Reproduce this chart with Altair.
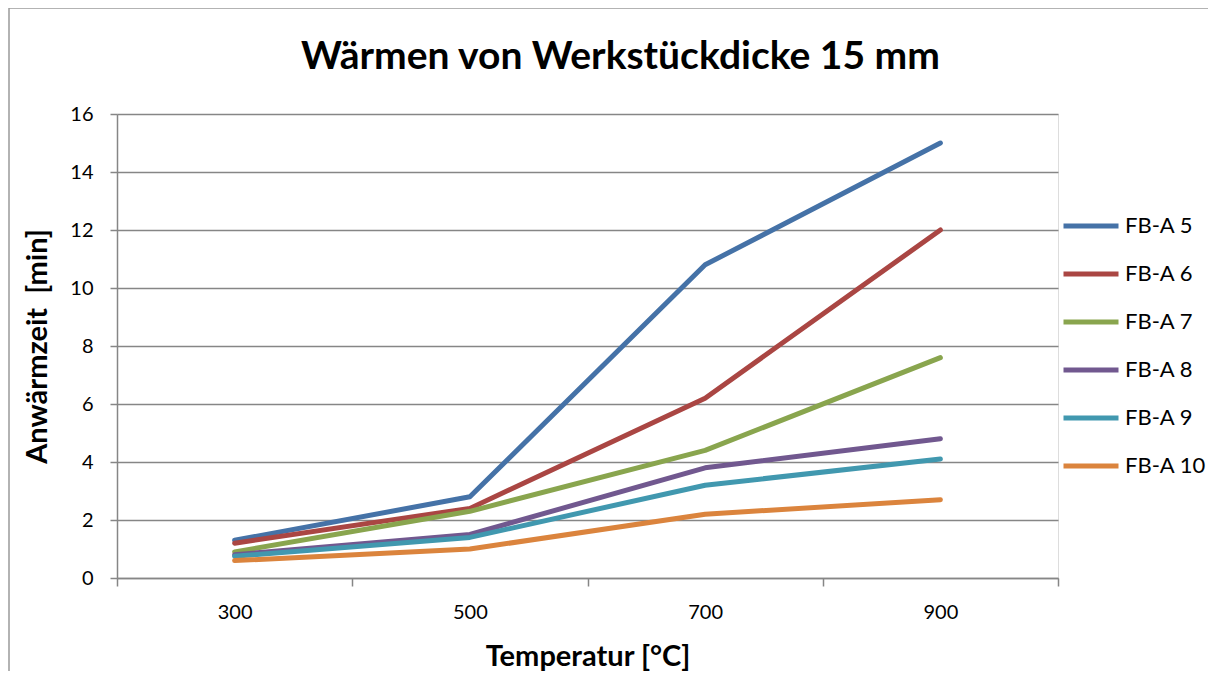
import altair as alt
import pandas as pd

temps = ["300", "500", "700", "900"]
series = ["FB-A 5", "FB-A 6", "FB-A 7", "FB-A 8", "FB-A 9", "FB-A 10"]
fba5 = [1.3, 2.8, 10.8, 15.0]
fba6 = [1.2, 2.4, 6.2, 12.0]
fba7 = [0.9, 2.3, 4.4, 7.6]
fba8 = [0.8, 1.5, 3.8, 4.8]
fba9 = [0.75, 1.4, 3.2, 4.1]
fba10 = [0.6, 1.0, 2.2, 2.7]
colors = ["#4572A7", "#AA4643", "#89A54E", "#71588F", "#4198AF", "#DB843D"]

rows = []
for name, vals in zip(series, [fba5, fba6, fba7, fba8, fba9, fba10]):
    for t, v in zip(temps, vals):
        rows.append({"Temperatur": t, "Zeit": v, "Serie": name})
df = pd.DataFrame(rows)

FONT = "Lato"

lines = alt.Chart(df).mark_line(strokeWidth=5, strokeCap="round", strokeJoin="round").encode(
    x=alt.X("Temperatur:N", sort=temps,
            scale=alt.Scale(type="band", paddingInner=0, paddingOuter=0),
            axis=alt.Axis(title="Temperatur [°C]", labelAngle=0, tickBand="extent",
                          tickSize=8, labelPadding=16, titlePadding=20,
                          domainColor="#868686", tickColor="#868686", domainWidth=1.5, tickWidth=1.5,
                          labelFont=FONT, labelFontSize=20, labelColor="#000",
                          titleFont=FONT, titleFontSize=29, titleFontWeight="bold", titleColor="#000",
                          grid=False)),
    y=alt.Y("Zeit:Q", scale=alt.Scale(domain=[0, 16]),
            axis=alt.Axis(title="Anwärmzeit \u00a0[min]", values=list(range(0, 17, 2)), tickSize=7,
                          labelPadding=17, titlePadding=17,
                          domainColor="#868686", tickColor="#868686", domainWidth=1.5, tickWidth=1.5,
                          gridColor="#868686", gridWidth=1.5,
                          labelFont=FONT, labelFontSize=20, labelColor="#000",
                          titleFont=FONT, titleFontSize=29, titleFontWeight="bold", titleColor="#000")),
    color=alt.Color("Serie:N", sort=series, scale=alt.Scale(domain=series, range=colors),
                    legend=alt.Legend(title=None, orient="none", legendX=944, legendY=82,
                                      symbolType="stroke", symbolSize=3025, symbolStrokeWidth=5,
                                      labelFont=FONT, labelFontSize=22, labelColor="#000",
                                      rowPadding=7, labelOffset=4)),
    order=alt.value(0),
)

border = alt.Chart(pd.DataFrame({"a": [0]})).mark_rule(color="#9a9a9a", strokeWidth=1.5).encode(
    x=alt.value(-108), y=alt.value(-106), y2=alt.value(600)
)
border_top = alt.Chart(pd.DataFrame({"a": [0]})).mark_rule(color="#9a9a9a", strokeWidth=1.5).encode(
    x=alt.value(-108), x2=alt.value(1100), y=alt.value(-106)
)

chart = alt.layer(border, border_top, lines).properties(
    width=941, height=464,
    title=alt.TitleParams("Wärmen von Werkstückdicke 15 mm", font=FONT, fontSize=39, fontWeight="bold",
                          color="#000", anchor="middle", frame="group", dx=33, offset=-70),
    autosize=alt.AutoSizeParams(type="none"),
    padding={"left": 109, "top": 106, "right": 150, "bottom": 93},
).configure_view(stroke=None).configure(background="white")

chart.save("out.html", embed_options={"renderer": "svg", "actions": False})
